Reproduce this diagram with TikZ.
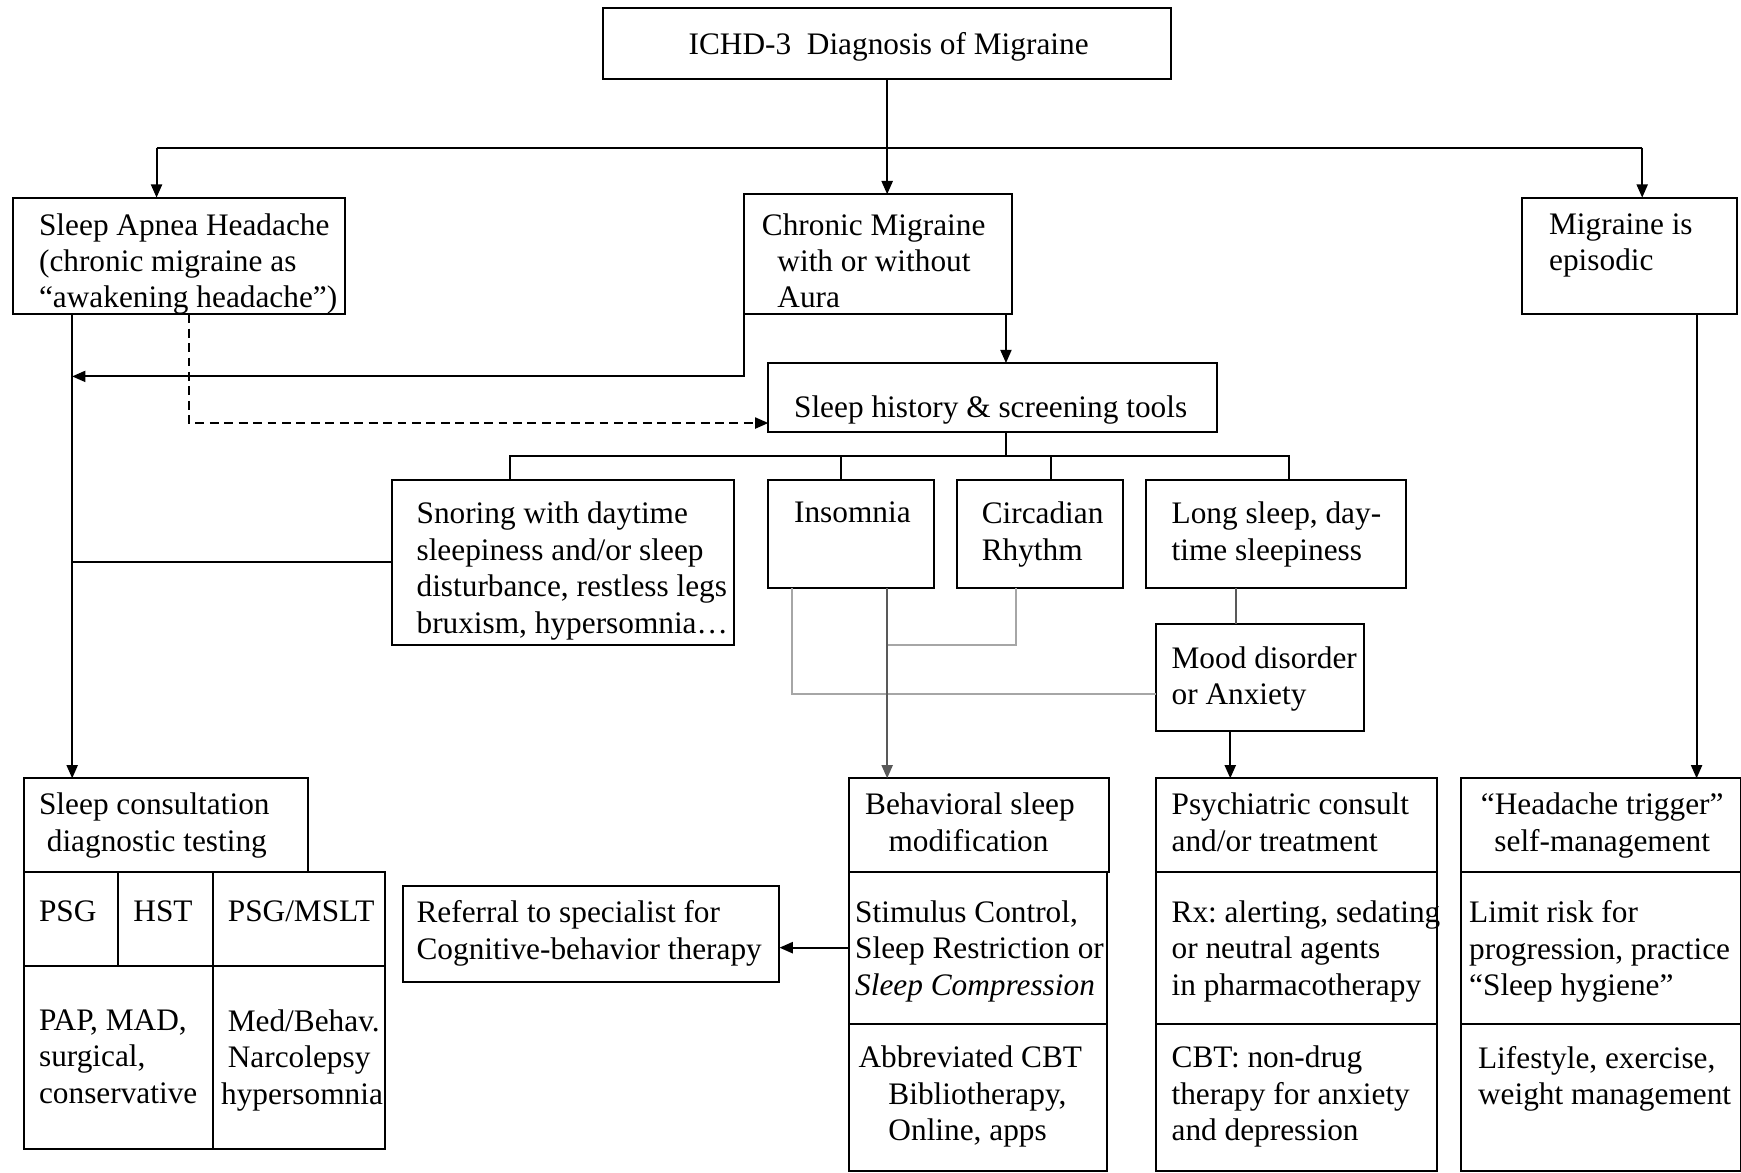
\documentclass[tikz,border=0pt]{standalone}
\usepackage{fontspec}
\setmainfont{Liberation Serif}
\usetikzlibrary{arrows.meta}
\frenchspacing
\newcommand\fsz{\fontsize{28.2pt}{32.8pt}\selectfont}
% framed box from its corners: name, x1, y1, x2, y2
\newcommand\mybox[5]{\node[box, minimum width={(#4)-(#2)}, minimum height={(#5)-(#3)}] (#1) at (#2,#3) {};}
% text block: name, left x, centre of first line, content
\newcommand\mytext[4]{\node[txt] (#1) at (#2,{#3-11}) {#4};}

\begin{document}
\begin{tikzpicture}[x=1pt,y=-1pt,
  box/.style={draw, line width=1.8pt, inner sep=0pt, outer sep=0pt, anchor=north west},
  txt/.style={inner sep=0pt, anchor=north west, align=left, font=\fsz},
  link/.style={line width=1.8pt},
  faint/.style={line width=1.6pt, draw=black!35},
  arr/.style={link, -{Triangle[length=12pt,width=10pt]}},
]
\useasboundingbox (0,0) rectangle (1568,1056);

% ---- boxes ----
\mybox{title}{543}{7}{1055}{71}
\mybox{apnea}{12}{178}{311}{283}
\mybox{chronic}{670}{175}{911}{283}
\mybox{episodic}{1371}{178}{1564}{283}
\mybox{hist}{692}{327}{1096}{389}
\mybox{snoring}{353}{432}{661}{581}
\mybox{insomnia}{692}{432}{841}{530}
\mybox{circ}{862}{432}{1011}{530}
\mybox{longsl}{1032}{432}{1266}{530}
\mybox{mood}{1041}{562}{1228}{658}

\mybox{consult}{22}{701}{277}{785}
\mybox{psg}{22}{785}{106}{870}
\mybox{hst}{106}{785}{192}{870}
\mybox{msl}{192}{785}{347}{870}
\mybox{pap}{22}{870}{192}{1035}
\mybox{med}{192}{870}{347}{1035}
\mybox{referral}{363}{798}{702}{884}

\mybox{behav}{765}{701}{999}{785}
\mybox{behavB}{765}{785}{997}{922}
\mybox{behavC}{765}{922}{997}{1055}
\mybox{psych}{1041}{701}{1294}{785}
\mybox{psychB}{1041}{785}{1294}{922}
\mybox{psychC}{1041}{922}{1294}{1055}
\mybox{trigger}{1316}{701}{1568}{785}
\mybox{triggerB}{1316}{785}{1568}{922}
\mybox{triggerC}{1316}{922}{1568}{1055}

% ---- texts ----
\mytext{t-title}{620}{40}{ICHD-3\ \ Diagnosis of Migraine}
\mytext{t-apnea}{35}{203}{Sleep Apnea Headache\\(chronic migraine as\\“awakening headache”)}
\mytext{t-chronic}{686}{203}{Chronic Migraine\\\hspace*{14pt}with or without\\\hspace*{14pt}Aura}
\mytext{t-episodic}{1395}{203}{Migraine is\\episodic}
\mytext{t-hist}{715}{367}{Sleep history \& screening tools}
\mytext{t-snoring}{375}{463}{Snoring with daytime\\sleepiness and/or sleep\\disturbance, restless legs\\bruxism, hypersomnia…}
\mytext{t-insomnia}{715}{463}{Insomnia}
\mytext{t-circ}{884}{463}{Circadian\\Rhythm}
\mytext{t-longsl}{1055}{463}{Long sleep, day-\\time sleepiness}
\mytext{t-mood}{1055}{593}{Mood disorder\\or Anxiety}
\mytext{t-consult}{35}{725}{Sleep consultation\\\hspace*{7pt}diagnostic testing}
\mytext{t-psg}{35}{822}{PSG}
\mytext{t-hst}{120}{822}{HST}
\mytext{t-msl}{205}{822}{PSG/MSLT}
\mytext{t-pap}{35}{920}{PAP, MAD,\\surgical,\\conservative}
\mytext{t-med}{205}{920}{Med/Behav.\\Narcolepsy\\\hspace*{-6pt}hypersomnia}
\mytext{t-referral}{375}{822}{Referral to specialist for\\Cognitive-behavior therapy}
\mytext{t-behav}{779}{725}{Behavioral sleep\\\hspace*{21pt}modification}
\mytext{t-behavB}{770}{822}{Stimulus Control,\\Sleep Restriction or\\\textit{Sleep Compression}}
\mytext{t-behavC}{773}{953}{Abbreviated CBT\\\hspace*{27pt}Bibliotherapy,\\\hspace*{27pt}Online, apps}
\mytext{t-psych}{1055}{725}{Psychiatric consult\\and/or treatment}
\mytext{t-psychB}{1055}{822}{Rx: alerting, sedating\\or neutral agents\\in pharmacotherapy}
\mytext{t-psychC}{1055}{953}{CBT: non-drug\\therapy for anxiety\\and depression}
\node[txt, anchor=north, align=center] (t-trigger) at (1443,714) {“Headache trigger”\\self-management};
\mytext{t-triggerB}{1323}{822}{Limit risk for\\progression, practice\\“Sleep hygiene”}
\mytext{t-triggerC}{1331}{953}{Lifestyle, exercise,\\weight management}

% ---- connectors ----
\coordinate (busL) at (141,133);
\coordinate (busR) at (1479,133);
\draw[link] (busL) -- (busR);
\draw[arr] (title.south) -- (title.south |- chronic.north);
\draw[arr] (busL) -- (busL |- apnea.north);
\draw[arr] (busR) -- (busR |- episodic.north);

\coordinate (apD) at ([xshift=53pt]apnea.south west);
\draw[arr] (apD) -- (apD |- consult.north);
\coordinate (chJ) at (65,339);
\draw[arr] (chronic.south west) |- (chJ);
\coordinate (apDash) at ([xshift=158pt]apnea.south west);
\draw[arr, dash pattern=on 8pt off 5pt] (apDash) |- ([yshift=-23pt]hist.west);

\coordinate (chD) at ([xshift=-5pt]chronic.south east);
\draw[arr] (chD) -- (chD |- hist.north);
\coordinate (hB) at (906,411);
\draw[link] (hB |- hist.south) -- (hB);
\coordinate (snD) at ([xshift=106pt]snoring.north west);
\coordinate (inD) at ([xshift=65pt]insomnia.north west);
\coordinate (ciD) at ([xshift=85pt]circ.north west);
\coordinate (loD) at ([xshift=129pt]longsl.north west);
\draw[link] (snD) |- (hB) -| (loD);
\draw[link] (inD) -- (inD |- hB);
\draw[link] (ciD) -- (ciD |- hB);
\draw[link] (snoring.west) -- (snoring.west -| apD);

\coordinate (inL) at ([xshift=21pt]insomnia.south west);
\draw[faint] (inL) |- ([yshift=-15pt]mood.west);
\coordinate (inR) at ([xshift=107pt]insomnia.south west);
\coordinate (ciL) at ([xshift=53pt]circ.south west);
\coordinate (ciJ) at (799,581);
\draw[faint] (ciL) |- (ciJ);
\draw[arr, draw=black!65, fill=black] (inR) -- (inR |- behav.north);
\coordinate (loM) at ([xshift=81pt]longsl.south west);
\draw[link, draw=black!65] (loM) -- (loM |- mood.north);
\coordinate (moD) at ([xshift=67pt]mood.south west);
\draw[arr] (moD) -- (moD |- psych.north);
\coordinate (epD) at ([xshift=157pt]episodic.south west);
\draw[arr] (epD) -- (epD |- trigger.north);
\draw[arr] (behavB.west) -- (behavB.west -| referral.east);
\end{tikzpicture}
\end{document}
